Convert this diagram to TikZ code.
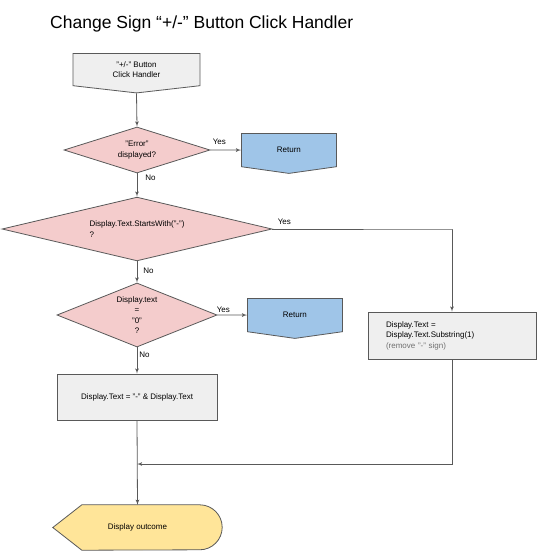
\documentclass[tikz,border=0pt]{standalone}
\usepackage{fontspec}
\setmainfont{Liberation Sans}
\usetikzlibrary{arrows,shapes.geometric,shapes.symbols,backgrounds,calc}

\definecolor{linegray}{HTML}{595959}
\definecolor{decisionpink}{HTML}{F4CCCC}
\definecolor{stepgray}{HTML}{EFEFEF}
\definecolor{returnblue}{HTML}{9FC5E8}
\definecolor{outyellow}{HTML}{FFE599}
\definecolor{notegray}{HTML}{707070}

\begin{document}
\begin{tikzpicture}[>=latex', x=1pt, y=1pt]
      \tikzset{
	  every node/.style={font=\fontsize{8}{10.5}\selectfont, inner sep=0pt},
	  conn/.style={draw=linegray, line width=0.8pt},
	  lbl/.style={font=\fontsize{8}{9}\selectfont},
	  decision/.style={diamond, draw=linegray, fill=decisionpink, line width=0.8pt, aspect=2},
	  process/.style={rectangle, draw=linegray, fill=stepgray, line width=0.8pt},
	  offpage/.style={signal, signal to=south, signal from=nothing, draw=linegray, line width=0.8pt, minimum width=95pt, minimum height=35pt, signal pointer angle=164, align=center},
      }
      \useasboundingbox (0,0) rectangle (543,-558);

      \node (title) at (50,-28) [anchor=base west, font=\fontsize{17.5}{21}\selectfont] {Change Sign “+/-” Button Click Handler};

      % left column
      \node (start) at (136.5,-53) [offpage, anchor=north, fill=stepgray, minimum width=127pt, signal pointer angle=167] {"+/-" Button\\Click Handler};
      \node (d1) at (137,-150) [decision, minimum width=146pt, minimum height=46pt, align=center] {"Error"\\displayed?};
      \node (ret1) at (241,-133) [offpage, anchor=north west, fill=returnblue] {Return};
      \node (d2) at (137,-229) [decision, minimum width=270pt, minimum height=63pt, align=left] {Display.Text.StartsWith("-")\\?};
      \node (d3) at (137,-315) [decision, minimum width=160pt, minimum height=64pt, align=center] {Display.text\\=\\"0"\\?};
      \node (ret2) at (247,-298) [offpage, anchor=north west, fill=returnblue] {Return};
      \node (neg) at (137,-397) [process, minimum width=160pt, minimum height=46pt] {Display.Text = "-" \& Display.Text};

      % right column
      \node (sub) at (452,-335.5) [process, minimum width=168pt, minimum height=47pt, inner xsep=18pt, text width=132pt, align=left] {Display.Text =\\Display.Text.Substring(1)\\\textcolor{notegray}{(remove "-" sign)}};

      \node (out) at (137.5,-527.5) [minimum width=169pt, minimum height=45pt] {Display outcome};
      \begin{scope}[on background layer]
	\filldraw [draw=linegray, fill=outyellow, line width=0.8pt] (out.west) -- ($(out.north west)+(29,0)$) -- ($(out.north east)+(-22.5,0)$) arc[start angle=90, end angle=-90, radius=22.5] -- ($(out.south west)+(29,0)$) -- cycle;
      \end{scope}
      \coordinate (join) at (137,-464);

      \draw [conn,->] (start.south) -- (d1.north);
      \draw [conn,->] (d1.east) -- node[lbl, pos=0, anchor=south west, xshift=2pt, yshift=5pt] {Yes} (ret1.west);
      \draw [conn,->] (d1.south) -- node[lbl, pos=0, anchor=north west, xshift=8pt, yshift=-1pt] {No} (d2.north);
      \draw [conn,->] (d2.east) -- node[lbl, pos=0, anchor=south west, xshift=5pt, yshift=4pt] {Yes} ++(180,0) -| (sub.north);
      \draw [conn,->] (d2.south) -- node[lbl, pos=0, anchor=north west, xshift=6pt, yshift=-6pt] {No} (d3.north);
      \draw [conn,->] (d3.east) -- node[lbl, pos=0, anchor=south west, xshift=-1pt, yshift=2pt] {Yes} (ret2.west);
      \draw [conn,->] (d3.south) -- node[lbl, pos=0, anchor=north west, xshift=2pt, yshift=-4pt] {No} (neg.north);
      \draw [conn,->] (neg.south) -- (out.north);
      \draw [conn,->] (sub.south) |- (join);
\end{tikzpicture}
\end{document}
